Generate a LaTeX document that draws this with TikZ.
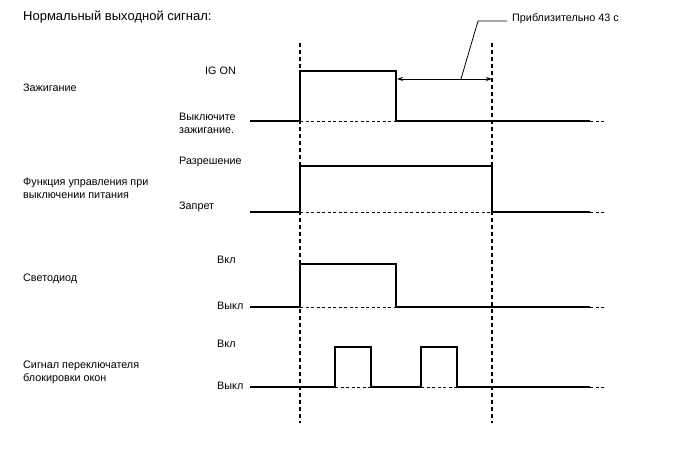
\documentclass[tikz,border=0pt]{standalone}
\usepackage{fontspec}
\setmainfont{Liberation Sans}
\usetikzlibrary{arrows.meta}
\begin{document}
\begin{tikzpicture}[x=1bp,y=-1bp,
  sig/.style={line width=1.4bp},
  base/.style={line width=0.7bp, dash pattern=on 3bp off 2.5bp},
  vline/.style={line width=1.2bp, dash pattern=on 4bp off 3bp},
  lbl/.style={font=\fontsize{10.8bp}{13bp}\selectfont, inner sep=0pt, align=left},
  ttl/.style={font=\fontsize{13bp}{15bp}\selectfont, inner sep=0pt}]
\useasboundingbox (0,0) rectangle (688,463);

% title
\node[ttl, anchor=west] (title) at (23,17) {Нормальный выходной сигнал:};

% vertical dashed lines
\draw[vline] (300,43) -- (300,423);
\draw[vline] (492,43) -- (492,423);

% Ignition
\node[lbl, anchor=west] (ign) at (23,88) {Зажигание};
\node[lbl, anchor=east] (igon) at (236,71) {IG ON};
\node[lbl, anchor=west] (igoff) at (179,123) {Выключите\\зажигание.};
\draw[sig] (250,121) -- (300,121) -- (300,71) -- (396,71) -- (396,121) -- (590,121);
\draw[base] (300,121) -- (396,121);
\draw[base] (590,121) -- (606,121);

% arrow
\coordinate (a1) at (397,79);
\coordinate (a2) at (492,79);
\coordinate (lp) at (461,79);
\coordinate (lk) at (478,21);
\coordinate (le) at (507,21);
\draw[line width=0.8bp, {Stealth[length=6bp,width=4bp]}-{Stealth[length=6bp,width=4bp]}] (a1) -- (a2);
\draw[line width=0.8bp] (lp) -- (lk) -- (le);
\node[lbl, anchor=west] (approx) at (512,19) {Приблизительно 43 с};

% Power off control
\node[lbl, anchor=west] (pwr) at (23,188) {Функция управления при\\выключении питания};
\node[lbl, anchor=west] (perm) at (179,162) {Разрешение};
\node[lbl, anchor=west] (proh) at (179,207) {Запрет};
\draw[sig] (250,212) -- (300,212) -- (300,166) -- (492,166) -- (492,212) -- (590,212);
\draw[base] (300,212) -- (492,212);
\draw[base] (590,212) -- (606,212);

% LED
\node[lbl, anchor=west] (led) at (23,279) {Светодиод};
\node[lbl, anchor=west] (ledon) at (217,260) {Вкл};
\node[lbl, anchor=west] (ledoff) at (217,306) {Выкл};
\draw[sig] (250,307) -- (300,307) -- (300,264) -- (396,264) -- (396,307) -- (590,307);
\draw[base] (300,307) -- (396,307);
\draw[base] (590,307) -- (606,307);

% Window lock switch
\node[lbl, anchor=west] (wl) at (23,372) {Сигнал переключателя\\блокировки окон};
\node[lbl, anchor=west] (wlon) at (217,344) {Вкл};
\node[lbl, anchor=west] (wloff) at (217,386) {Выкл};
\draw[sig] (250,387) -- (335,387) -- (335,347) -- (371,347) -- (371,387) -- (421,387) -- (421,347) -- (457,347) -- (457,387) -- (590,387);
\draw[base] (335,387) -- (371,387);
\draw[base] (421,387) -- (457,387);
\draw[base] (590,387) -- (606,387);
\end{tikzpicture}
\end{document}
